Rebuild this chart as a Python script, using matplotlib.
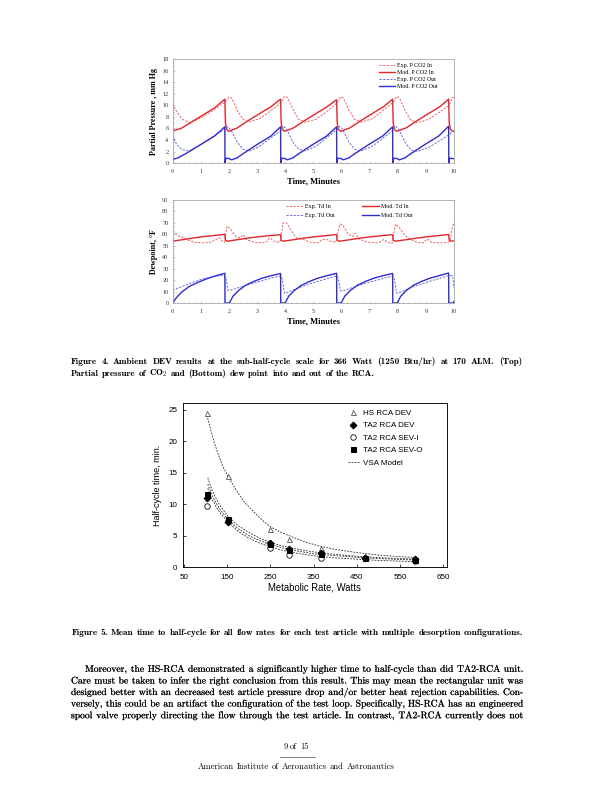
import matplotlib
matplotlib.use("Agg")
from matplotlib import pyplot as plt
from matplotlib import patheffects
from matplotlib.ticker import MultipleLocator, AutoMinorLocator
from matplotlib.lines import Line2D

# ---- Figure 4 (top): partial pressure of CO2, mm Hg vs time, minutes
t_pin_mod = [0.00, 0.30, 0.70, 1.10, 1.50, 1.86,
             1.88, 1.92, 2.00, 2.30, 2.70, 3.10, 3.50, 3.84,
             3.86, 3.90, 3.98, 4.30, 4.70, 5.10, 5.50, 5.83,
             5.85, 5.89, 5.97, 6.30, 6.70, 7.10, 7.50, 7.82,
             7.84, 7.88, 7.96, 8.30, 8.70, 9.10, 9.50, 9.81,
             9.83, 9.87, 9.95, 10.0]
pin_mod = [5.6, 6.0, 7.2, 8.4, 9.6, 11.1,
           7.0, 5.9, 5.5, 6.1, 7.4, 8.6, 9.8, 11.1,
           7.0, 5.9, 5.5, 6.1, 7.4, 8.6, 9.8, 11.0,
           7.0, 5.9, 5.5, 6.1, 7.4, 8.6, 9.8, 11.1,
           7.0, 5.9, 5.5, 6.1, 7.4, 8.6, 9.8, 11.1,
           7.0, 5.9, 5.5, 5.5]

t_pout_mod = [0.00, 0.20, 0.50, 1.00, 1.50, 1.86,
              1.865, 1.89, 2.00, 2.10, 2.30, 2.50, 3.00, 3.50, 3.84,
              3.845, 3.87, 3.98, 4.08, 4.28, 4.48, 4.98, 5.48, 5.83,
              5.835, 5.86, 5.97, 6.07, 6.27, 6.47, 6.97, 7.47, 7.82,
              7.825, 7.85, 7.96, 8.06, 8.26, 8.46, 8.96, 9.46, 9.81,
              9.815, 9.84, 9.95, 10.0]
pout_mod = [0.6, 0.9, 1.7, 3.2, 4.7, 6.3,
            0.0, 0.8, 0.8, 0.55, 0.9, 1.6, 3.2, 4.7, 6.3,
            0.0, 0.8, 0.8, 0.55, 0.9, 1.6, 3.2, 4.7, 6.3,
            0.0, 0.8, 0.8, 0.55, 0.9, 1.6, 3.2, 4.7, 6.3,
            0.0, 0.8, 0.8, 0.55, 0.9, 1.6, 3.2, 4.7, 6.4,
            0.0, 0.8, 0.8, 0.7]

t_pin_exp = [0.00, 0.15, 0.35, 0.60, 1.00, 1.50, 1.87,
             2.00, 2.10, 2.30, 2.50, 2.70, 3.10, 3.50, 3.85,
             3.98, 4.08, 4.28, 4.48, 4.70, 5.10, 5.50, 5.84,
             5.97, 6.07, 6.27, 6.47, 6.70, 7.10, 7.50, 7.83,
             7.96, 8.06, 8.26, 8.46, 8.70, 9.10, 9.50, 9.82,
             9.95, 10.0]
pin_exp = [10.3, 8.9, 7.6, 7.0, 7.8, 9.3, 10.6,
           11.5, 11.3, 9.2, 7.6, 7.1, 7.7, 9.1, 10.4,
           11.6, 11.4, 9.3, 7.6, 7.1, 7.6, 9.0, 10.4,
           11.5, 11.3, 9.2, 7.6, 7.1, 7.7, 9.2, 10.5,
           11.6, 11.3, 9.2, 7.5, 7.0, 7.6, 8.9, 10.0,
           11.4, 11.4]

t_pout_exp = [0.00, 0.15, 0.35, 0.60, 1.00, 1.50, 1.87,
              1.97, 2.07, 2.30, 2.50, 2.75, 3.10, 3.50, 3.85,
              3.95, 4.05, 4.28, 4.48, 4.72, 5.10, 5.50, 5.84,
              5.94, 6.04, 6.27, 6.47, 6.70, 7.10, 7.50, 7.83,
              7.93, 8.03, 8.26, 8.46, 8.70, 9.10, 9.50, 9.82,
              9.95, 10.0]
pout_exp = [4.8, 3.2, 2.3, 2.1, 3.2, 4.8, 5.9,
            6.3, 5.8, 3.6, 2.4, 2.1, 2.9, 4.4, 5.6,
            6.4, 5.9, 3.6, 2.4, 2.1, 2.9, 4.5, 5.8,
            6.4, 5.9, 3.6, 2.4, 2.1, 2.9, 4.4, 5.6,
            6.4, 5.9, 3.6, 2.3, 2.0, 2.7, 3.9, 4.9,
            5.5, 5.6]

# ---- Figure 4 (bottom): dewpoint, F
t_tin_mod = [0.00, 0.40, 0.80, 1.20, 1.60, 1.86,
             1.88, 1.95, 2.30, 2.70, 3.10, 3.50, 3.84,
             3.86, 3.93, 4.30, 4.70, 5.10, 5.50, 5.83,
             5.85, 5.92, 6.30, 6.70, 7.10, 7.50, 7.82,
             7.84, 7.91, 8.30, 8.70, 9.10, 9.50, 9.81,
             9.83, 9.90, 10.0]
tin_mod = [54.0, 55.5, 57.0, 58.3, 59.3, 60.0,
           55.0, 54.0, 55.3, 56.8, 58.0, 59.0, 59.7,
           55.0, 54.0, 55.3, 56.8, 58.0, 59.0, 59.8,
           55.0, 54.0, 55.3, 56.8, 58.0, 59.0, 59.7,
           55.0, 54.0, 55.3, 56.8, 58.0, 59.0, 59.9,
           55.0, 54.0, 54.3]

t_tout_mod = [0.00, 0.15, 0.35, 0.60, 0.90, 1.20, 1.50, 1.86,
              1.865, 2.02, 2.15, 2.35, 2.60, 2.90, 3.20, 3.50, 3.84,
              3.845, 4.00, 4.13, 4.33, 4.58, 4.88, 5.18, 5.48, 5.83,
              5.835, 5.99, 6.12, 6.32, 6.57, 6.87, 7.17, 7.47, 7.82,
              7.825, 7.98, 8.11, 8.31, 8.56, 8.86, 9.16, 9.46, 9.81,
              9.815, 9.97, 10.0]
tout_mod = [0.0, 5.0, 10.0, 14.5, 18.0, 21.0, 23.5, 26.0,
            0.0, 0.0, 6.0, 11.0, 15.5, 19.0, 21.8, 23.8, 25.8,
            0.0, 0.0, 6.0, 11.0, 15.5, 19.0, 21.8, 23.8, 26.0,
            0.0, 0.0, 6.0, 11.0, 15.5, 19.0, 21.8, 23.8, 25.8,
            0.0, 0.0, 6.0, 11.0, 15.5, 19.0, 21.8, 23.8, 26.2,
            0.0, 0.0, 1.5]

t_tin_exp = [0.00, 0.10, 0.25, 0.40, 0.55, 0.80, 1.10, 1.35, 1.55, 1.65, 1.78, 1.85,
             1.93, 2.05, 2.25, 2.40, 2.50, 2.62, 2.90, 3.20, 3.35, 3.45, 3.60, 3.78, 3.83,
             3.93, 4.05, 4.20, 4.40, 4.55, 4.70, 4.90, 5.15, 5.30, 5.45, 5.60, 5.80,
             5.95, 6.05, 6.25, 6.40, 6.50, 6.62, 6.90, 7.20, 7.35, 7.50, 7.65, 7.80,
             7.92, 8.05, 8.20, 8.35, 8.50, 8.70, 8.90, 9.05, 9.20, 9.50, 9.78, 9.85,
             9.95, 10.0]
tin_exp = [63.0, 61.0, 58.0, 57.0, 55.0, 53.0, 52.5, 53.0, 55.5, 57.0, 54.0, 53.0,
           67.0, 65.0, 58.0, 57.0, 59.5, 55.5, 53.0, 52.5, 53.5, 57.0, 54.0, 53.0, 54.0,
           70.0, 70.0, 64.0, 57.0, 56.0, 55.0, 53.0, 52.5, 55.0, 56.0, 54.0, 53.0,
           69.0, 68.0, 60.0, 58.0, 61.0, 56.0, 53.5, 52.5, 53.0, 55.5, 53.0, 52.0,
           69.0, 66.0, 61.0, 57.0, 55.0, 53.0, 52.5, 56.0, 53.0, 52.5, 53.0, 54.0,
           67.0, 70.0]

t_tout_exp = [0.00, 0.30, 0.60, 1.00, 1.40, 1.80, 1.90, 1.97,
              2.10, 2.40, 2.80, 3.20, 3.60, 3.85, 3.90, 3.98,
              4.10, 4.40, 4.80, 5.20, 5.60, 5.84, 5.89, 5.97,
              6.10, 6.40, 6.80, 7.20, 7.60, 7.83, 7.88, 7.96,
              8.10, 8.40, 8.80, 9.20, 9.60, 9.82, 9.95, 10.0]
tout_exp = [11.0, 14.0, 17.0, 20.5, 22.8, 24.3, 22.0, 11.0,
            11.5, 13.8, 16.8, 19.6, 22.3, 23.5, 21.0, 8.5,
            9.5, 12.5, 16.0, 19.2, 22.0, 23.8, 21.5, 10.5,
            11.0, 13.5, 16.8, 19.5, 22.2, 23.5, 21.0, 8.5,
            9.5, 12.8, 16.2, 19.5, 22.3, 24.0, 24.0, 13.0]

# ---- Figure 5: half-cycle time vs metabolic rate
watts = [103, 153, 250, 293, 368, 470, 585]
hs_dev = [24.5, 14.5, 6.0, 4.4, 3.0, 1.7, 1.2]
ta2_dev = [11.0, 7.1, 3.8, 2.8, 2.2, 1.5, 1.2]
ta2_sevi = [9.7, 7.3, 3.1, 1.9, 1.5, 1.4, 0.9]
ta2_sevo = [11.6, 7.7, 3.7, 2.7, 2.1, 1.5, 1.1]

vsa_w_hs = [103, 110, 120, 130, 140, 153, 170, 190, 210, 230, 250, 275, 300, 330, 360, 400, 450, 500, 540, 585]
vsa_hs = [24.2, 22.3, 19.8, 17.8, 16.0, 14.3, 12.3, 10.3, 8.9, 7.5, 6.4, 5.5, 4.8, 4.0, 3.4, 2.8, 2.3, 1.9, 1.7, 1.5]
vsa_w = [105, 115, 125, 135, 153, 175, 200, 225, 250, 275, 300, 350, 400, 450, 500, 585]
vsa_a = [14.2, 12.2, 10.8, 9.6, 8.0, 6.6, 5.5, 4.6, 3.9, 3.4, 3.0, 2.4, 2.0, 1.7, 1.5, 1.25]
vsa_b = [13.2, 11.4, 10.1, 9.0, 7.5, 6.1, 5.0, 4.2, 3.6, 3.1, 2.7, 2.1, 1.8, 1.55, 1.35, 1.1]
vsa_c = [12.5, 10.8, 9.5, 8.5, 7.1, 5.7, 4.6, 3.8, 3.2, 2.7, 2.3, 1.8, 1.45, 1.25, 1.05, 0.85]

fig4_cap = ["Figure 4.  Ambient DEV results at the sub-half-cycle scale for 366 Watt (1250 Btu/hr) at 170 ALM. (Top)",
            r"Partial pressure of CO$_{\mathbf{2}}$ and (Bottom) dew point into and out of the RCA."]
fig5_cap = "Figure 5.  Mean time to half-cycle for all flow rates for each test article with multiple desorption configurations."
body = ["Moreover, the HS-RCA demonstrated a significantly higher time to half-cycle than did TA2-RCA unit.",
        "Care must be taken to infer the right conclusion from this result. This may mean the rectangular unit was",
        "designed better with an decreased test article pressure drop and/or better heat rejection capabilities. Con-",
        "versely, this could be an artifact the configuration of the test loop. Specifically, HS-RCA has an engineered",
        "spool valve properly directing the flow through the test article. In contrast, TA2-RCA currently does not"]

plt.rcParams['mathtext.fontset'] = 'cm'
W, H = 612, 792
RED, RED_L = '#e3262b', '#f0585c'
BLUE, BLUE_L = '#2f2fd0', '#6060e0'
SERIF = 'Liberation Serif'
SANS = 'Liberation Sans'
SPACE = 0.333  # interword space, in em
HEAVY = [patheffects.withStroke(linewidth=0.12, foreground='black')]

fig = plt.figure(figsize=(W / 72, H / 72), dpi=72)
renderer = fig.canvas.get_renderer()


def box(left, top, right, bottom):
    return fig.add_axes([left / W, 1 - bottom / H, (right - left) / W, (bottom - top) / H])


def style_top(ax, ymax, ystep):
    ax.set_xlim(0, 10)
    ax.set_ylim(0, ymax)
    ax.xaxis.set_major_locator(MultipleLocator(1))
    ax.yaxis.set_major_locator(MultipleLocator(ystep))
    ax.xaxis.set_minor_locator(AutoMinorLocator(5))
    ax.yaxis.set_minor_locator(AutoMinorLocator(5))
    ax.tick_params(which='both', direction='in', color='#888888', labelsize=6.3)
    ax.tick_params(which='major', length=2.2, width=0.5)
    ax.tick_params(which='minor', length=1.3, width=0.5)
    ax.tick_params(axis='x', pad=6)
    ax.tick_params(axis='y', pad=4)
    for lab in ax.get_xticklabels() + ax.get_yticklabels():
        lab.set_family(SERIF)
        lab.set_color('#333333')
    for s in ax.spines.values():
        s.set_color('#999999')
        s.set_linewidth(0.7)
    ax.set_xlabel("Time, Minutes", family=SERIF, fontweight='bold', fontsize=8.5, labelpad=3)


# top chart
ax1 = box(172.5, 59.5, 454, 163)
ax1.plot(t_pin_exp, pin_exp, color=RED_L, lw=0.9, ls=(0, (2.5, 1.5)), label='Exp. P CO2 In')
ax1.plot(t_pin_mod, pin_mod, color=RED, lw=1.4, label='Mod. P CO2 In')
ax1.plot(t_pout_exp, pout_exp, color=BLUE_L, lw=0.9, ls=(0, (2.5, 1.5)), label='Exp. P CO2 Out')
ax1.plot(t_pout_mod, pout_mod, color=BLUE, lw=1.4, label='Mod. P CO2 Out')
style_top(ax1, 18, 2)
ax1.set_ylabel("Partial Pressure , mm Hg", family=SERIF, fontweight='bold', fontsize=8, labelpad=4)
ax1.legend(loc='upper left', bbox_to_anchor=(0.72, 1.0), frameon=False,
           prop={'family': SERIF, 'size': 6}, handlelength=2.7, handletextpad=0.4,
           labelspacing=0.3, borderaxespad=0.2)

# bottom chart
ax2 = box(172.5, 200, 454, 303)
l_ei, = ax2.plot(t_tin_exp, tin_exp, color=RED_L, lw=0.9, ls=(0, (2.5, 1.5)), label='Exp. Td In')
l_mi, = ax2.plot(t_tin_mod, tin_mod, color=RED, lw=1.4, label='Mod. Td In')
l_eo, = ax2.plot(t_tout_exp, tout_exp, color=BLUE_L, lw=0.9, ls=(0, (2.5, 1.5)), label='Exp. Td Out')
l_mo, = ax2.plot(t_tout_mod, tout_mod, color=BLUE, lw=1.4, label='Mod. Td Out')
style_top(ax2, 90, 10)
ax2.set_ylabel("Dewpoint, °F", family=SERIF, fontweight='bold', fontsize=8, labelpad=4)
ax2.legend(handles=[l_ei, l_eo, l_mi, l_mo], ncol=2, loc='upper left', bbox_to_anchor=(0.39, 1.0),
           frameon=False, prop={'family': SERIF, 'size': 6}, handlelength=2.7,
           handletextpad=0.4, labelspacing=0.6, columnspacing=4.6, borderaxespad=0.3)

# figure 5
ax3 = box(182.5, 403, 447, 567)
dash = (0, (2.2, 1.6))
ax3.plot(vsa_w_hs, vsa_hs, color='#222222', lw=0.8, ls=dash)
ax3.plot(vsa_w, vsa_a, color='#222222', lw=0.8, ls=dash)
ax3.plot(vsa_w, vsa_b, color='#222222', lw=0.8, ls=dash)
ax3.plot(vsa_w, vsa_c, color='#222222', lw=0.8, ls=dash)
ax3.plot(watts, hs_dev, ls='none', marker='^', ms=5, mfc='white', mec='#333333', mew=0.7, label='HS RCA DEV')
ax3.plot(watts, ta2_sevi, ls='none', marker='o', ms=5.5, mfc='white', mec='black', mew=0.8, label='TA2 RCA SEV-I')
ax3.plot(watts, ta2_sevo, ls='none', marker='s', ms=5, mfc='black', mec='black', label='TA2 RCA SEV-O')
ax3.plot(watts, ta2_dev, ls='none', marker='D', ms=4.8, mfc='black', mec='black', label='TA2 RCA DEV')
ax3.set_xlim(46.5, 659)
ax3.set_ylim(0, 26.1)
ax3.set_xticks([50, 150, 250, 350, 450, 550, 650])
ax3.set_yticks([0, 5, 10, 15, 20, 25])
ax3.tick_params(direction='in', length=3, width=0.7, labelsize=8)
ax3.tick_params(axis='x', pad=7)
ax3.tick_params(axis='y', pad=5)
for lab in ax3.get_xticklabels() + ax3.get_yticklabels():
    lab.set_family(SANS)
for s in ax3.spines.values():
    s.set_linewidth(0.9)
ax3.set_xlabel("Metabolic Rate, Watts", family=SANS, fontsize=9.5, labelpad=2)
ax3.set_ylabel("Half-cycle time, min.", family=SANS, fontsize=9, labelpad=6)
h = {l.get_label(): l for l in ax3.get_lines()}
vsa_handle = Line2D([], [], color='#222222', lw=0.8, ls=dash)
ax3.legend([h['HS RCA DEV'], h['TA2 RCA DEV'], h['TA2 RCA SEV-I'], h['TA2 RCA SEV-O'], vsa_handle],
           ['HS RCA DEV', 'TA2 RCA DEV', 'TA2 RCA SEV-I', 'TA2 RCA SEV-O', 'VSA Model'],
           loc='upper left', bbox_to_anchor=(0.6, 1.0), frameon=False, prop={'family': SANS, 'size': 8},
           handlelength=1.4, handletextpad=0.5, labelspacing=0.6, borderaxespad=0.4)


# page text, set word by word so lines can be justified like the LaTeX page
def word_widths(line, size, family):
    ws = []
    for w in line.split():
        t = fig.text(0, 0, w, fontsize=size, family=family)
        ws.append(t.get_window_extent(renderer).width)
        t.remove()
    return ws


def fit_size(lines, family, width):
    # size at which the widest line, with plain interword spaces, fills the width
    best = 100
    for l in lines:
        ws = word_widths(l, 10, family)
        per_pt = sum(ws) / 10 + SPACE * (len(ws) - 1)
        best = min(best, width / per_pt)
    return best


def put_line(line, x0, yc, size, family, x1=None, ha='left', heavy=False):
    base = 1 - (yc + size * 0.26) / H
    words = line.split()
    objs = [fig.text(0, base, w, fontsize=size, family=family, va='baseline') for w in words]
    widths = [o.get_window_extent(renderer).width for o in objs]
    if x1 is None:
        gap = SPACE * size
        total = sum(widths) + gap * (len(words) - 1)
        if ha == 'center':
            x0 = x0 - total / 2
    else:
        gap = (x1 - x0 - sum(widths)) / (len(words) - 1)
    x = x0
    for o, w in zip(objs, widths):
        o.set_x(x / W)
        if heavy:
            o.set_path_effects(HEAVY)
        x += w + gap


cap_size = fit_size([fig4_cap[0], fig5_cap], 'cmb10', 452)
put_line(fig4_cap[0], 71, 361.7, cap_size, 'cmb10', x1=522)
put_line(fig4_cap[1], 71, 373.3, cap_size, 'cmb10')
put_line(fig5_cap, 297.5, 633, cap_size, 'cmb10', ha='center')

body_size = fit_size(body[1:], 'cmr10', 451)
body_y = [669.3, 681.0, 692.5, 704.0, 715.7]
for i, (line, y) in enumerate(zip(body, body_y)):
    put_line(line, 85 if i == 0 else 71, y, body_size, 'cmr10', x1=523, heavy=True)

put_line("9 of 15", 296, 747, body_size * 0.9, 'cmr10', ha='center')
fig.add_artist(Line2D([280 / W, 315 / W], [1 - 756.7 / H, 1 - 756.7 / H], color='black', lw=0.5))
put_line("American Institute of Aeronautics and Astronautics", 296, 766.7, body_size * 0.9, 'cmr10',
         ha='center')

fig.savefig("out.png", dpi=72)
